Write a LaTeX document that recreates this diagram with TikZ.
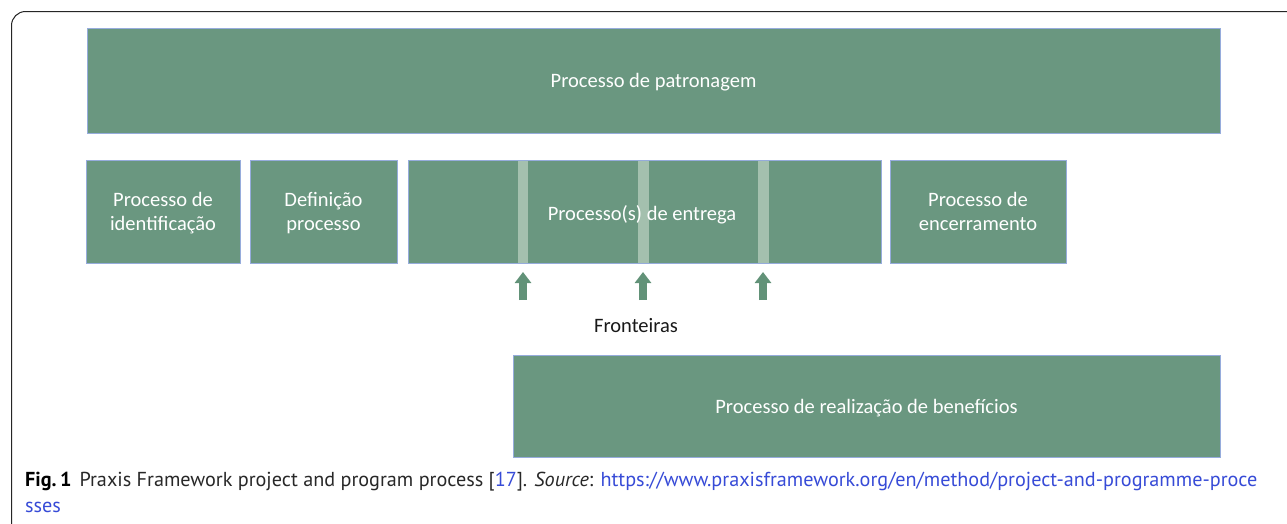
\documentclass[tikz,border=0pt]{standalone}
\usepackage{fontspec}
\setmainfont{Carlito}
\newfontfamily\capfont{PT Sans}
\usetikzlibrary{arrows.meta}
\definecolor{boxgreen}{RGB}{106,151,128}
\definecolor{bandgreen}{RGB}{164,192,174}
\definecolor{boxedge}{RGB}{150,172,220}
\definecolor{arrowgreen}{RGB}{98,146,120}
\definecolor{linkblue}{RGB}{55,75,215}
\definecolor{captext}{RGB}{40,40,40}
\begin{document}
\begin{tikzpicture}[x=1pt,y=-1pt,
  procbox/.style={draw=boxedge, line width=1pt, fill=boxgreen, text=white, align=center,
    inner sep=0pt, text depth=0pt, font=\fontsize{20.5}{24}\selectfont},
  band/.style={fill=bandgreen, draw=none},
  boundarrow/.style={draw=arrowgreen, line width=8pt, -{Triangle[width=16pt,length=11pt]}}]
\useasboundingbox (0,0) rectangle (1287,523);
\fill[white] (0,0) rectangle (1287,523);
\draw[line width=1pt, color=black!85, rounded corners=14pt] (11.5,560) -- (11.5,11.5) -- (1320,11.5);
\node[procbox, minimum width=1133pt, minimum height=105pt] (patron) at (653.5,80.5) {Processo de patronagem};
\node[procbox, minimum width=154pt, minimum height=103pt] (ident) at (163,211.5) {Processo de\\identificação};
\node[procbox, minimum width=147pt, minimum height=103pt] (defin) at (323.5,211.5) {Definição\\processo};
\node[procbox, minimum width=473pt, minimum height=103pt] (entrega) at (644.5,211.5) {};
\fill[band] (518,160.5) rectangle (528,262.5);
\fill[band] (638,160.5) rectangle (649,262.5);
\fill[band] (758,160.5) rectangle (769,262.5);
\node[text=white, font=\fontsize{20.5}{24}\selectfont, inner sep=0pt, text depth=0pt] (entregatxt) at (642,213) {Processo(s) de entrega};
\node[procbox, minimum width=176pt, minimum height=103pt] (encerr) at (978,211.5) {Processo de\\encerramento};
\node[procbox, minimum width=707pt, minimum height=102pt] (benef) at (866.5,406) {Processo de realização de benefícios};
\coordinate (a1s) at (523,300); \coordinate (a1e) at (523,272);
\coordinate (a2s) at (643,300); \coordinate (a2e) at (643,272);
\coordinate (a3s) at (763,300); \coordinate (a3e) at (763,272);
\draw[boundarrow] (a1s) -- (a1e);
\draw[boundarrow] (a2s) -- (a2e);
\draw[boundarrow] (a3s) -- (a3e);
\node[font=\fontsize{20.5}{24}\selectfont, text=black!90, inner sep=0pt] (front) at (636,326) {Fronteiras};
\node[anchor=west, inner sep=0pt, font=\capfont\fontsize{20.2}{23}\selectfont, text=captext] (cap1) at (25,482)
  {\textbf{\color{black}Fig.\,1}\hspace{8pt}Praxis Framework project and program process [{\color{linkblue}17}]. \textit{Source}: {\color{linkblue}https://www.praxisframework.org/en/method/project-and-programme-proce}};
\node[anchor=west, inner sep=0pt, font=\capfont\fontsize{20.2}{23}\selectfont, text=linkblue] (cap2) at (25,507) {sses};
\end{tikzpicture}
\end{document}
